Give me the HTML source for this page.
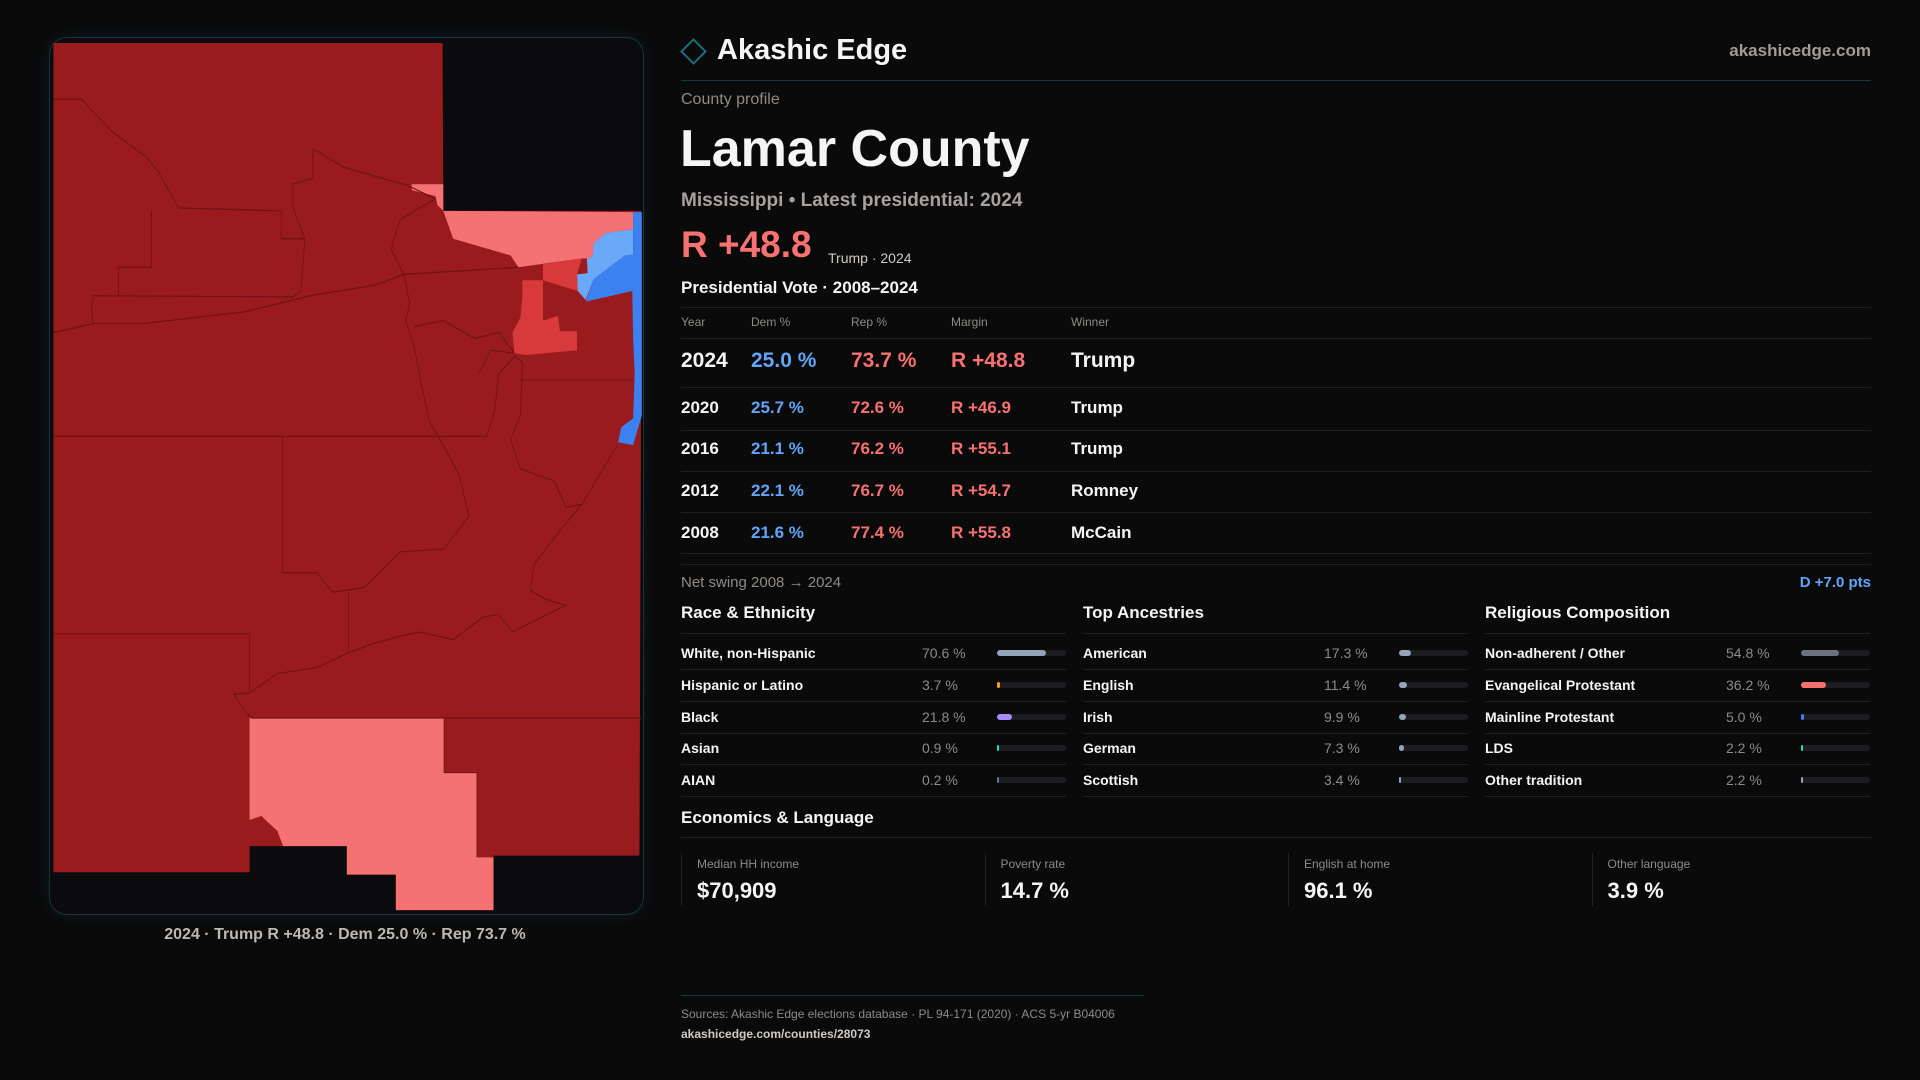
<!DOCTYPE html>
<html><head><meta charset="utf-8">
<style>
*{box-sizing:border-box;margin:0;padding:0}
body{width:1920px;height:1080px;background:#0a0a0b;font-family:"Liberation Sans",sans-serif;color:#f5f5f4;position:relative;overflow:hidden}
.a{position:absolute;white-space:nowrap}
.hl{position:absolute;height:1px;background:#1f2023}
.g{color:#8f8a85}
.row{position:absolute;left:681px;font-size:17px;font-weight:700;white-space:nowrap}
.row span{position:absolute;transform:translateY(-50%);white-space:nowrap}
.sec{position:absolute;font-size:17px;font-weight:700;white-space:nowrap}
.card{position:absolute;top:853px;height:53px;border-left:1px solid #222327;padding-left:15px;white-space:nowrap}
</style></head><body>
<div class="a" style="left:49px;top:37px;width:595px;height:878px;border:1px solid #15353a;border-radius:18px;background:#0b0b0d;box-shadow:0 0 14px rgba(20,80,90,.25)"></div>
<svg class="a" style="left:40px;top:30px" width="620" height="930" viewBox="0 0 1568 1568" preserveAspectRatio="none">
<path fill="#9a1b1e" d="M34,22L1018,22L1020,305L1520,305L1520,650L1516,1392L1147,1392L1147,1484L900,1484L900,1424L776,1424L776,1376L530,1376L530,1420L34,1420Z"/>
<path fill="#f47174" d="M940,260L1020,260L1020,305L1500,307L1500,336L1430,342L1400,360L1398,382L1383,385L1370,385L1210,400L1190,380L1045,352L1020,305L1005,295L1000,280L940,270Z"/>
<path fill="#6aa8f8" d="M1400,360L1430,342L1500,336L1500,380L1480,380L1440,400L1400,420L1380,455L1360,440L1358,412L1385,410L1383,385L1398,382Z"/>
<path fill="#3b82f0" d="M1500,307L1522,307L1522,650L1500,700L1462,695L1470,670L1500,655L1504,580L1500,520L1498,440L1380,458L1400,420L1440,400L1480,380L1500,378Z"/>
<path fill="#d83a3c" d="M1272,395L1370,385L1358,412L1360,440L1272,422Z M1220,422L1272,422L1272,490L1310,482L1315,508L1358,508L1358,540L1230,548L1200,545L1195,510L1215,485L1220,450Z"/>
<path fill="#f47174" d="M530,1160L1022,1160L1022,1252L1105,1252L1105,1395L1147,1395L1147,1484L900,1484L900,1424L776,1424L776,1376L615,1376L600,1350L575,1335L560,1325L530,1332Z"/>
<g fill="none" stroke="#6e1214" stroke-width="2">
<path d="M34,117L105,117L180,170L270,215L300,240L350,300L610,305L610,352L670,352L660,440L640,450L135,448L130,470L135,495L34,510"/>
<path d="M282,305L282,400L198,400L198,448"/>
<path d="M135,495L260,495L520,475L690,447L850,430L920,412L1210,400"/>
<path d="M690,200L690,250L640,260L640,300L670,352 M690,200L770,232L930,262L1000,285L960,300L910,320L888,370L920,412L935,460L925,490L945,530L965,600L985,660L1020,700L1060,750L1085,820L1050,850L1020,875L910,880L820,940L740,948L700,915L613,915L613,685L1130,685L1150,640L1160,580L1200,550L1220,560L1215,650L1190,690L1215,740L1300,760L1330,805L1370,800L1460,700"/>
<path d="M945,500L1020,490L1100,520L1160,510L1200,545 M1110,580L1140,540L1200,545"/>
<path d="M1215,590L1500,590"/>
<path d="M34,685L613,685 M34,1018L530,1018L530,1118L490,1120L520,1150L535,1160L1520,1160"/>
<path d="M780,948L780,1050L840,1035L910,1022L960,1015L1045,1028L1120,990L1160,985L1195,1015L1270,990L1330,970L1280,960L1240,945L1250,900L1320,840L1370,800"/>
<path d="M530,1118L600,1085L700,1075L780,1050"/>
<path d="M1022,1160L1022,1252L1105,1252L1105,1395"/>
</g>
</svg>
<div class="a" style="left:345px;top:935px;transform:translate(-50%,-50%);font-size:16px;font-weight:700;color:#bdb8b2">2024 · Trump R +48.8 · Dem 25.0 % · Rep 73.7 %</div>

<div class="a" style="left:684px;top:42px;width:19px;height:19px;border:2px solid #1a6f7a;transform:rotate(45deg)"></div>
<div class="a" style="left:717px;top:34px;font-size:29px;font-weight:700">Akashic Edge</div>
<div class="a" style="right:49px;top:41px;font-size:17px;font-weight:700;color:#a09c96">akashicedge.com</div>
<div class="hl" style="left:681px;width:1190px;top:80px;background:#17383c"></div>
<div class="a g" style="left:681px;top:91px;font-size:16px">County profile</div>
<div class="a" style="left:680px;top:119px;font-size:52px;font-weight:700">Lamar County</div>
<div class="a" style="left:681px;top:190px;font-size:19px;font-weight:700;color:#a8a29e">Mississippi • Latest presidential: 2024</div>
<div class="a" style="left:681px;top:224px;font-size:37px;font-weight:700;color:#f87171">R +48.8</div>
<div class="a" style="left:828px;top:250px;font-size:14px;color:#cfcac5">Trump · 2024</div>
<div class="a" style="left:681px;top:278px;font-size:17px;font-weight:700">Presidential Vote · 2008–2024</div>
<div id="tbl"></div>
<div class="a g" style="left:681px;top:574px;font-size:15px">Net swing 2008 → 2024</div>
<div class="a" style="right:49px;top:574px;font-size:15px;font-weight:700;color:#60a5fa">D +7.0 pts</div>
<div id="demo"></div>
<div class="sec" style="left:681px;top:808px">Economics &amp; Language</div>
<div class="hl" style="left:681px;width:1190px;top:837px"></div>
<div id="econ"></div>
<div class="hl" style="left:681px;width:463px;top:995px;background:#17383c"></div>
<div class="a g" style="left:681px;top:1007px;font-size:12px">Sources: Akashic Edge elections database · PL 94-171 (2020) · ACS 5-yr B04006</div>
<div class="a" style="left:681px;top:1027px;font-size:12px;font-weight:700;color:#cfcac5">akashicedge.com/counties/28073</div>
<script>
const years=["2024","2020","2016","2012","2008"];
const demPct=[25.0,25.7,21.1,22.1,21.6];
const repPct=[73.7,72.6,76.2,76.7,77.4];
const margins=[48.8,46.9,55.1,54.7,55.8];
const winners=["Trump","Trump","Trump","Romney","McCain"];
const raceLabels=["White, non-Hispanic","Hispanic or Latino","Black","Asian","AIAN"];
const raceVals=[70.6,3.7,21.8,0.9,0.2];
const ancLabels=["American","English","Irish","German","Scottish"];
const ancVals=[17.3,11.4,9.9,7.3,3.4];
const relLabels=["Non-adherent / Other","Evangelical Protestant","Mainline Protestant","LDS","Other tradition"];
const relVals=[54.8,36.2,5.0,2.2,2.2];
const econLabels=["Median HH income","Poverty rate","English at home","Other language"];
const econVals=["$70,909","14.7 %","96.1 %","3.9 %"];

function line(top,left,w){const d=document.createElement('div');d.className='hl';d.style.top=top+'px';d.style.left=left+'px';d.style.width=w+'px';document.body.appendChild(d);return d;}
const colX=[0,70,170,270,390];
line(307,681,1190);line(338,681,1190);
["Year","Dem %","Rep %","Margin","Winner"].forEach((h,i)=>{const s=document.createElement('div');


s.className='a g';s.style.left=(681+colX[i])+'px';s.style.top='315px';s.style.fontSize='12px';s.textContent=h;document.body.appendChild(s);});
const rowY=[361,408,449,491,533];const sepY=[387,430,471,512,553];
years.forEach((y,i)=>{const r=document.createElement('div');r.className='row';r.style.top=rowY[i]+'px';


if(i===0)r.style.fontSize='21px';
const vals=[y,demPct[i].toFixed(1)+' %',repPct[i].toFixed(1)+' %','R +'+margins[i].toFixed(1),winners[i]];
const cols=['#f5f5f4','#60a5fa','#f87171','#f87171','#f5f5f4'];
vals.forEach((v,j)=>{const s=document.createElement('span');s.style.left=colX[j]+'px';s.style.color=cols[j];s.textContent=v;r.appendChild(s);});
document.body.appendChild(r);line(sepY[i],681,1190);});
line(564,681,1190);
const groups=[["Race & Ethnicity",raceLabels,raceVals,["#94a3b8","#f59e0b","#a78bfa","#2dd4bf","#64748b"]],
["Top Ancestries",ancLabels,ancVals,["#94a3b8","#94a3b8","#94a3b8","#94a3b8","#94a3b8"]],
["Religious Composition",relLabels,relVals,["#6b7280","#f87171","#3b82f6","#2dd4bf","#9ca3af"]]];
const gx=[681,1083,1485];const W=385;
groups.forEach((g,gi)=>{const x=gx[gi];
const h=document.createElement('div');h.className='sec';h.style.left=x+'px';h.style.top='603px';h.textContent=g[0];


document.body.appendChild(h);line(633,x,W);
g[1].forEach((lab,i)=>{const cy=653+i*31.8;
const l=document.createElement('div');l.className='a';l.style.left=x+'px';l.style.top=(cy-8)+'px';l.style.fontSize='14px';l.style.fontWeight='700';l.textContent=lab;


document.body.appendChild(l);
const v=document.createElement('div');v.className='a g';v.style.left=(x+241)+'px';v.style.top=(cy-8)+'px';v.style.fontSize='14px';v.textContent=g[2][i].toFixed(1)+' %';


document.body.appendChild(v);
const t=document.createElement('div');t.className='a';t.style.left=(x+316)+'px';t.style.top=(cy-3)+'px';t.style.width='69px';t.style.height='6px';t.style.background='#1c1d21';t.style.borderRadius='3px';


const b=document.createElement('div');b.style.height='6px';b.style.borderRadius='3px';b.style.background=g[3][i];b.style.width=Math.max(2,69*g[2][i]/100)+'px';


t.appendChild(b);document.body.appendChild(t);
line(669+i*31.8,x,W);});});
econLabels.forEach((lab,i)=>{const c=document.createElement('div');c.className='card';c.style.left=(681+i*303.5)+'px';c.style.width='303px';


c.innerHTML='<div style="font-size:12px;color:#8f8a85;margin-top:4px">'+lab+'</div><div style="font-size:22px;font-weight:700;margin-top:7px">'+econVals[i]+'</div>';
document.body.appendChild(c);});
</script>
</body></html>
